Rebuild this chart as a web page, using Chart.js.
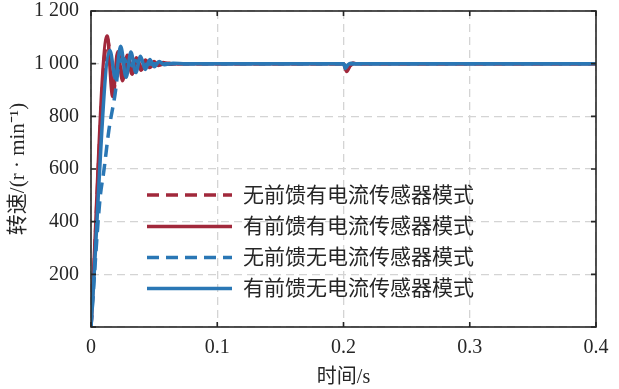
<!DOCTYPE html>
<html><head><meta charset="utf-8">
<script src="https://cdn.jsdelivr.net/npm/chart.js@4.4.0/dist/chart.umd.min.js"></script>
<style>html,body{margin:0;padding:0;background:#fff;}#wrap{width:619px;height:389px;position:relative;}</style>
</head><body><div id="wrap"><canvas id="c" width="619" height="389"></canvas></div>
<script>
// ---- data ----
const seriesNames = ['无前馈有电流传感器模式','有前馈有电流传感器模式','无前馈无电流传感器模式','有前馈无电流传感器模式'];
const xTitle = '时间/s';
const yTitle = '转速/(r · min⁻¹)';
const xTicks = [0, 0.1, 0.2, 0.3, 0.4];
const xTickLabels = ['0', '0.1', '0.2', '0.3', '0.4'];
const yTicks = [0, 200, 400, 600, 800, 1000, 1200];
const yTickLabels = ['', '200', '400', '600', '800', '1 000', '1 200'];

// 无前馈有电流传感器模式 (red dashed)
const tRedDash = [0, 0.0132, 0.0176, 0.0216, 0.0254, 0.0292, 0.0330, 0.0365, 0.0400, 0.0435, 0.0470, 0.0510, 0.0550, 0.0600, 0.0700, 0.2000, 0.2025, 0.2050, 0.2100, 0.4000];
const vRedDash = [0, 1095, 885, 1040, 940, 1028, 962, 1020, 977, 1012, 987, 1006, 996, 1002, 1000, 1000, 975, 992, 1000, 1000];
// 有前馈有电流传感器模式 (red solid)
const tRedSolid = [0, 0.0128, 0.0172, 0.0212, 0.0250, 0.0288, 0.0325, 0.0360, 0.0395, 0.0430, 0.0465, 0.0500, 0.0535, 0.0570, 0.0620, 0.0700, 0.2000, 0.2025, 0.2050, 0.2075, 0.2100, 0.4000];
const vRedSolid = [0, 1105, 875, 1045, 935, 1032, 960, 1022, 975, 1014, 985, 1008, 993, 1004, 998, 1000, 1000, 970, 990, 1003, 1000, 1000];
// 无前馈无电流传感器模式 (blue dashed)
const tBlueDash = [0, 0.0070, 0.0103, 0.0142, 0.0190, 0.0220, 0.0260, 0.0300, 0.0350, 0.0400, 0.0500, 0.2000, 0.2020, 0.2050, 0.2100, 0.4000];
const vBlueDash = [0, 480, 597, 749, 882, 990, 1020, 985, 1012, 996, 1000, 1000, 984, 998, 1000, 1000];
// 有前馈无电流传感器模式 (blue solid)
const tBlueSolid = [0, 0.0150, 0.0193, 0.0235, 0.0278, 0.0316, 0.0355, 0.0392, 0.0430, 0.0466, 0.0502, 0.0540, 0.0580, 0.0650, 0.0750, 0.2000, 0.2015, 0.2035, 0.2060, 0.2100, 0.4000];
const vBlueSolid = [0, 1050, 945, 1066, 948, 1044, 966, 1028, 978, 1016, 988, 1008, 996, 1002, 1000, 1000, 982, 996, 1002, 1000, 1000];

// ---- styles ----
const RED = '#a1283b', BLUE = '#2a77b5';
const FONT_FAMILY = "'Liberation Serif','Noto Sans CJK SC',serif";
const TXT = '#262626';
const DASH = [12, 7];

const pts = (t, v) => t.map((x, i) => ({x: x, y: v[i]}));

const datasets = [
  {label: seriesNames[0], data: pts(tRedDash, vRedDash), borderColor: RED, borderDash: DASH, order: 3},
  {label: seriesNames[1], data: pts(tRedSolid, vRedSolid), borderColor: RED, order: 2},
  {label: seriesNames[2], data: pts(tBlueDash, vBlueDash), borderColor: BLUE, borderDash: DASH, order: 1},
  {label: seriesNames[3], data: pts(tBlueSolid, vBlueSolid), borderColor: BLUE, order: 0}
];

const framePlugin = {
  id: 'frame',
  afterDatasetsDraw(chart) {
    const {ctx, chartArea: a, scales} = chart;
    ctx.save();
    ctx.strokeStyle = '#262626';
    ctx.lineWidth = 1.6;
    ctx.setLineDash([]);
    ctx.strokeRect(a.left, a.top, a.right - a.left, a.bottom - a.top);
    const L = 5;
    ctx.beginPath();
    xTicks.forEach(v => {
      const x = scales.x.getPixelForValue(v);
      ctx.moveTo(x, a.bottom); ctx.lineTo(x, a.bottom - L);
      ctx.moveTo(x, a.top); ctx.lineTo(x, a.top + L);
    });
    yTicks.forEach(v => {
      const y = scales.y.getPixelForValue(v);
      ctx.moveTo(a.left, y); ctx.lineTo(a.left + L, y);
      ctx.moveTo(a.right, y); ctx.lineTo(a.right - L, y);
    });
    ctx.stroke();
    ctx.restore();
  }
};

const legendPlugin = {
  id: 'inlegend',
  afterDraw(chart) {
    const {ctx} = chart;
    const rows = [195, 226.5, 257.5, 288.5];
    ctx.save();
    ctx.font = "21px " + FONT_FAMILY;
    ctx.textBaseline = 'middle';
    ctx.textAlign = 'left';
    chart.data.datasets.forEach((ds, i) => {
      const y = rows[i];
      ctx.strokeStyle = ds.borderColor;
      ctx.lineWidth = 3.5;
      ctx.setLineDash(ds.borderDash || []);
      ctx.beginPath();
      ctx.moveTo(147, y); ctx.lineTo(232, y);
      ctx.stroke();
      ctx.setLineDash([]);
      ctx.fillStyle = TXT;
      ctx.fillText(ds.label, 243, y + 1);
    });
    ctx.restore();
  }
};

const tickFont = {family: FONT_FAMILY, size: 20};

new Chart(document.getElementById('c'), {
  type: 'line',
  data: {datasets: datasets},
  options: {
    responsive: false,
    animation: false,
    devicePixelRatio: 1,
    layout: {padding: {top: 11, right: 23, left: 0, bottom: 0}},
    plugins: {legend: {display: false}, tooltip: {enabled: false}},
    elements: {point: {radius: 0}, line: {tension: 0.4, cubicInterpolationMode: 'monotone', borderWidth: 3.5, fill: false}},
    scales: {
      x: {
        type: 'linear', min: 0, max: 0.4,
        afterBuildTicks: s => { s.ticks = xTicks.map(v => ({value: v})); },
        ticks: {callback: v => xTickLabels[xTicks.indexOf(v)], font: tickFont, color: TXT, padding: 9, maxRotation: 0, autoSkip: false},
        grid: {color: '#d4d4d4', lineWidth: 1.3, drawTicks: false},
        border: {display: false, dash: [8, 5]},
        title: {display: true, text: xTitle, font: {family: FONT_FAMILY, size: 20}, color: TXT, padding: {top: 0, bottom: -1}},
        afterFit: s => { s.height = 62; s.paddingLeft = 0; s.paddingRight = 0; }
      },
      y: {
        type: 'linear', min: 0, max: 1200,
        afterBuildTicks: s => { s.ticks = yTicks.map(v => ({value: v})); },
        ticks: {callback: v => yTickLabels[yTicks.indexOf(v)], font: tickFont, color: TXT, padding: 12, autoSkip: false},
        grid: {color: '#d4d4d4', lineWidth: 1.3, drawTicks: false},
        border: {display: false, dash: [8, 5]},
        title: {display: true, text: yTitle, font: {family: FONT_FAMILY, size: 21}, color: TXT, padding: {top: 6, bottom: 0}},
        afterFit: s => { s.width = 91; s.paddingTop = 0; s.paddingBottom = 0; }
      }
    }
  },
  plugins: [framePlugin, legendPlugin]
});
</script></body></html>
